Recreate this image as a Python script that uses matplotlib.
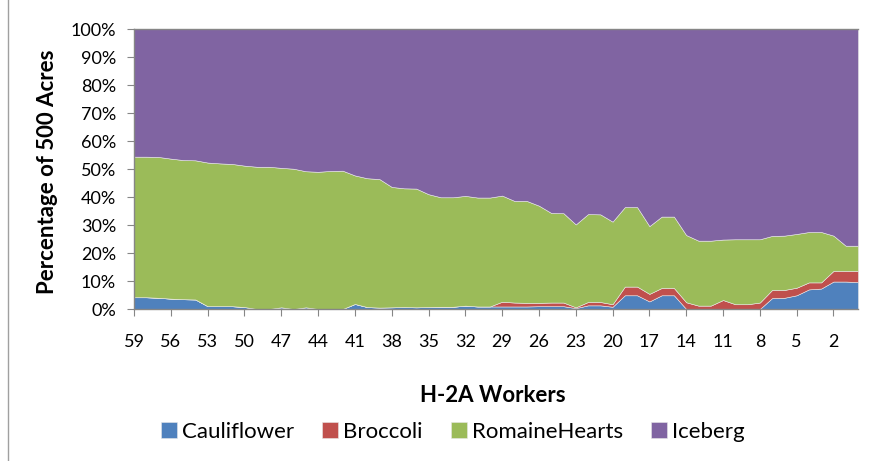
import numpy as np
import matplotlib
matplotlib.use("Agg")
import matplotlib.pyplot as plt
from matplotlib.lines import Line2D
from matplotlib.ticker import PercentFormatter

# H-2A workers, read right-to-left on the chart (59 down to 0)
workers = list(range(59, -1, -1))

# share of 500 acres (percent), one value per worker count
cauliflower = [4.2, 4.2, 4.0, 3.7, 3.5, 3.4, 1.0, 1.0, 1.0, 0.7,
               0.0, 0.0, 0.6, 0.0, 0.6, 0.0, 0.0, 0.0, 1.8, 0.7,
               0.5, 0.6, 0.7, 0.6, 0.7, 0.8, 0.8, 1.2, 0.9, 0.9,
               0.9, 0.9, 0.9, 1.0, 1.0, 1.0, 0.3, 1.3, 1.3, 0.8,
               4.9, 4.9, 2.7, 4.9, 4.9, 0.0, 0.0, 0.0, 0.0, 0.0,
               0.0, 0.0, 3.9, 4.0, 4.9, 7.0, 7.3, 9.8, 9.8, 9.6]
broccoli = [0.0, 0.0, 0.0, 0.0, 0.0, 0.0, 0.0, 0.0, 0.0, 0.0,
            0.0, 0.0, 0.0, 0.0, 0.0, 0.0, 0.0, 0.0, 0.0, 0.0,
            0.0, 0.0, 0.0, 0.0, 0.0, 0.0, 0.0, 0.0, 0.0, 0.0,
            1.7, 1.4, 1.3, 1.2, 1.3, 1.3, 0.3, 1.2, 1.2, 0.9,
            3.1, 3.1, 2.7, 2.6, 2.6, 2.4, 1.2, 1.2, 3.2, 1.7,
            1.7, 2.3, 2.9, 2.8, 2.7, 2.5, 2.2, 3.8, 3.8, 4.0]
romaine = [50.2, 50.2, 50.3, 50.0, 49.7, 49.7, 51.3, 51.0, 50.8, 50.5,
           50.8, 50.8, 49.8, 50.1, 48.6, 49.0, 49.3, 49.4, 45.9, 46.0,
           45.9, 43.0, 42.4, 42.4, 40.3, 39.1, 39.1, 39.2, 38.9, 38.9,
           37.9, 36.3, 36.4, 34.7, 32.0, 31.9, 29.6, 31.4, 31.3, 29.5,
           28.4, 28.4, 24.2, 25.5, 25.5, 24.0, 23.2, 23.2, 21.6, 23.2,
           23.2, 22.6, 19.3, 19.4, 19.2, 18.0, 18.0, 12.6, 9.0, 9.0]
iceberg = [45.6, 45.6, 45.7, 46.3, 46.8, 46.9, 47.7, 48.0, 48.2, 48.8,
           49.2, 49.2, 49.6, 49.9, 50.8, 51.0, 50.7, 50.6, 52.3, 53.3,
           53.6, 56.4, 56.9, 57.0, 59.0, 60.1, 60.1, 59.6, 60.2, 60.2,
           59.5, 61.4, 61.4, 63.1, 65.7, 65.8, 69.8, 66.1, 66.2, 68.8,
           63.6, 63.6, 70.4, 67.0, 67.0, 73.6, 75.6, 75.6, 75.2, 75.1,
           75.1, 75.1, 73.9, 73.8, 73.2, 72.5, 72.5, 73.8, 77.4, 77.4]

series_names = ["Cauliflower", "Broccoli", "RomaineHearts", "Iceberg"]
colors = ["#4F81BD", "#C0504D", "#9BBB59", "#8064A2"]
tick_workers = list(range(59, 0, -3))

# Lato is the closest installed match to Calibri
plt.rcParams['font.family'] = ['Lato', 'DejaVu Sans']

# 100% stacked: normalise each column
stack = np.array([cauliflower, broccoli, romaine, iceberg], dtype=float)
stack = stack / stack.sum(axis=0) * 100

W, H = 874, 461
fig = plt.figure(figsize=(W / 100, H / 100), dpi=100)
ax = fig.add_axes([134 / W, 1 - 309 / H, (858 - 134) / W, (309 - 29) / H])

polys = ax.stackplot(workers, stack, colors=colors, labels=series_names,
                     edgecolor="#e8e8e8", linewidth=0.4)

ax.set_xlim(59, 0)
ax.set_ylim(0, 100)
ax.set_xticks(tick_workers)
ax.set_xticklabels([str(w) for w in tick_workers])
ax.set_yticks(np.arange(0, 101, 10))
ax.yaxis.set_major_formatter(PercentFormatter(decimals=0))

for side in ["left", "bottom", "top"]:
    ax.spines[side].set_color("#868686")
    ax.spines[side].set_linewidth(1.0)
ax.spines["right"].set_visible(False)

ax.tick_params(axis="both", colors="#868686", labelcolor="black",
               labelsize=13, length=5, direction="out")
ax.tick_params(axis="y", pad=8)
ax.tick_params(axis="x", pad=13)

fig.text(47.5 / W, 1 - 172 / H, "Percentage of 500 Acres", rotation=90,
         ha="center", va="center", fontsize=16, fontweight="bold")
fig.text(493 / W, 1 - 395 / H, "H-2A Workers", ha="center", va="center",
         fontsize=16, fontweight="bold")

fig.legend(handles=polys, labels=series_names, loc="center",
           bbox_to_anchor=(453 / W, 1 - 432 / H), ncol=4, frameon=False,
           fontsize=16, handlelength=0.72, handleheight=0.72,
           handletextpad=0.23, columnspacing=1.26, borderaxespad=0)

# chart-area border visible on the left edge
fig.add_artist(Line2D([8 / W, 8 / W], [0, 1], color="#a0a0a0", linewidth=1.0))

fig.savefig("out.png", dpi=100, facecolor="white")
